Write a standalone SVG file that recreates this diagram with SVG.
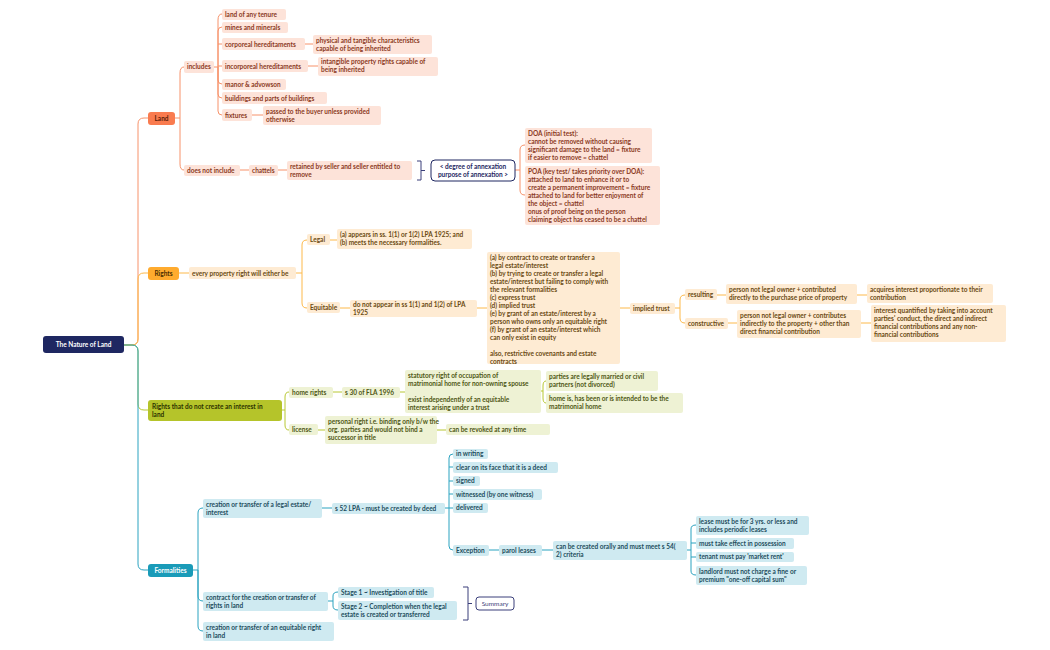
<svg xmlns="http://www.w3.org/2000/svg" width="1050" height="650" viewBox="0 0 1050 650">
<style>
text{font-family:Lato,"Open Sans","Liberation Sans",sans-serif;font-size:6.5px;font-weight:700}
.c path{fill:none;stroke-width:1}
.cl path{stroke:#F7926A}.cr path{stroke:#FDB94A}.cn path{stroke:#B8C832}.cf path{stroke:#2BA3C0}
.l rect{fill:#FDE3D9}.l text{fill:#8B3A1E}
.r rect{fill:#FEEBD3}.r text{fill:#6B4A12}
.n rect{fill:#EEF2D4}.n text{fill:#4F5714}
.f rect{fill:#CFEAF1}.f text{fill:#1E4E5E}
.br{fill:none;stroke:#3A3F7A;stroke-width:1}
</style>
<rect width="1050" height="650" fill="#fff"/>
<g class="c">
<g class="cl">
<path d="M124,345H132Q138,345 138,339V124Q138,118 144,118H148"/>
<path d="M175,118H180M180,118V73Q180,67 184,67M180,118V164Q180,170 184,170"/>
<path d="M214,67H218M218,67V20Q218,14 222,14M218,67V31Q218,27 222,27M218,44H222M218,66H222M218,67V80Q218,84 222,84M218,67V94Q218,98 222,98M218,67V111Q218,115 222,115"/>
<path d="M305,44H313M308,66H318M252,115H263M240,170H249M278,170H287"/>
<path d="M515,170H520M520,170V150Q520,145 525,145M520,170V190Q520,195 525,195"/>
</g>
<g class="cr">
<path d="M124,345H132Q138,345 138,339V279Q138,273 144,273H148"/>
<path d="M179,273H189M296,273H302M302,273V245Q302,240 307,240M302,273V303Q302,308 307,308"/>
<path d="M330,240H337M340,308H350M477,308H487M620,308H630"/>
<path d="M675,308H680M680,308V300Q680,295 685,295M680,308V318Q680,323 685,323"/>
<path d="M717,295H726M857,295H867M728,323H737M861,323H871"/>
</g>
<g class="cn">
<path d="M124,345H132Q138,345 138,351V404Q138,410 144,410H148"/>
<path d="M282,410H285M285,410V397Q285,392 289,392M285,410V425Q285,430 289,430"/>
<path d="M333,392H342M400,392H405M541,391H543M543,391V386Q543,381 546,381M543,391V398Q543,403 546,403"/>
<path d="M318,430H325M437,430H446"/>
</g>
<g class="cf">
<path d="M124,345H132Q138,345 138,351V564Q138,570 144,570H148"/>
<path d="M193,570H198M198,570V513Q198,508 203,508M198,570V596Q198,601 203,601M198,570V626Q198,631 203,631"/>
<path d="M322,508H332M445,508H449M449,508V458Q449,454 453,454M449,467H453M449,481H453M449,494H453M449,508H453M449,508V546Q449,550 453,550"/>
<path d="M489,550H499M542,550H553M687,550H691M691,550V529Q691,525 696,525M691,543H696M691,557H696M691,550V571Q691,575 696,575"/>
<path d="M328,601H333M333,601V596Q333,592 338,592M333,601V606Q333,610 338,610"/>
</g>
</g>
<g id="root"><rect x="43" y="336" width="81" height="17" rx="3" fill="#1E2761"/><text x="83.5" y="347.3" text-anchor="middle" fill="#fff">The Nature of Land</text></g>
<g id="land" class="l">
<rect x="148" y="112" width="27" height="13" rx="3" style="fill:#F97B4F"/><text x="161.5" y="120.5" text-anchor="middle" style="fill:#5a1e0a">Land</text>
</g>
<g id="includes" class="l"><rect x="184" y="61" width="30" height="12" rx="2"/><text x="187" y="69.3">includes</text></g>
<g id="l1" class="l"><rect x="222" y="9" width="64" height="11" rx="2"/><text x="225" y="16.8">land of any tenure</text></g>
<g id="l2" class="l"><rect x="222" y="22" width="66" height="11" rx="2"/><text x="225" y="29.8">mines and minerals</text></g>
<g id="l3" class="l"><rect x="222" y="38" width="83" height="12" rx="2"/><text x="225" y="46.5">corporeal hereditaments</text></g>
<g id="l3a" class="l"><rect x="313" y="35" width="119" height="19" rx="2"/><text x="316" y="42.5">physical and tangible characteristics<tspan x="316" dy="8">capable of being inherited</tspan></text></g>
<g id="l4" class="l"><rect x="222" y="60" width="86" height="12" rx="2"/><text x="225" y="68.5">incorporeal hereditaments</text></g>
<g id="l4a" class="l"><rect x="318" y="57" width="120" height="19" rx="2"/><text x="321" y="64">intangible property rights capable of<tspan x="321" dy="8">being inherited</tspan></text></g>
<g id="l5" class="l"><rect x="222" y="79" width="64" height="11" rx="2"/><text x="225" y="86.5">manor &amp; advowson</text></g>
<g id="l6" class="l"><rect x="222" y="92" width="105" height="12" rx="2"/><text x="225" y="100.5">buildings and parts of buildings</text></g>
<g id="l7" class="l"><rect x="222" y="109" width="30" height="12" rx="2"/><text x="225" y="117.5">fixtures</text></g>
<g id="l7a" class="l"><rect x="263" y="106" width="118" height="19" rx="2"/><text x="266" y="113.5">passed to the buyer unless provided<tspan x="266" dy="8">otherwise</tspan></text></g>
<g id="dni" class="l"><rect x="184" y="165" width="56" height="11" rx="2"/><text x="187" y="172.5">does not include</text></g>
<g id="chattels" class="l"><rect x="249" y="165" width="29" height="11" rx="2"/><text x="252" y="172.5">chattels</text></g>
<g id="retained" class="l"><rect x="287" y="161" width="125" height="19" rx="2"/><text x="290" y="168.5">retained by seller and seller entitled to<tspan x="290" dy="8">remove</tspan></text></g>
<path class="br" d="M417,161H421V180H417M421,170.5H425"/>
<g id="annex"><rect x="431" y="160" width="84" height="21" rx="4" fill="#fff" stroke="#1E2761" stroke-width="1"/><text x="473" y="168.5" text-anchor="middle" fill="#1E2761">&lt; degree of annexation<tspan x="473" dy="8">purpose of annexation &gt;</tspan></text></g>
<g id="doa" class="l"><rect x="525" y="128" width="127" height="35" rx="2"/><text x="528" y="135.5">DOA (initial test):<tspan x="528" dy="8">cannot be removed without causing</tspan><tspan x="528" dy="8">significant damage to the land = fixture</tspan><tspan x="528" dy="8">if easier to remove = chattel</tspan></text></g>
<g id="poa" class="l"><rect x="525" y="166" width="135" height="59" rx="2"/><text x="528" y="174">POA (key test/ takes priority over DOA):<tspan x="528" dy="8">attached to land to enhance it or to</tspan><tspan x="528" dy="8">create a permanent improvement = fixture</tspan><tspan x="528" dy="8">attached to land for better enjoyment of</tspan><tspan x="528" dy="8">the object = chattel</tspan><tspan x="528" dy="8">onus of proof being on the person</tspan><tspan x="528" dy="8">claiming object has ceased to be a chattel</tspan></text></g>

<g id="rights" class="r"><rect x="148" y="267" width="31" height="13" rx="3" style="fill:#FFAB2E"/><text x="163.5" y="275.5" text-anchor="middle" style="fill:#4a2e00">Rights</text></g>
<g id="every" class="r"><rect x="189" y="267" width="107" height="12" rx="2"/><text x="192" y="275.5">every property right will either be</text></g>
<g id="legal" class="r"><rect x="307" y="234" width="23" height="11" rx="2"/><text x="310" y="241.8">Legal</text></g>
<g id="legala" class="r"><rect x="337" y="229" width="135" height="20" rx="2"/><text x="340" y="236.5">(a) appears in ss. 1(1) or 1(2) LPA 1925; and<tspan x="340" dy="8">(b) meets the necessary formalities.</tspan></text></g>
<g id="equit" class="r"><rect x="307" y="302" width="33" height="11" rx="2"/><text x="310" y="309.8">Equitable</text></g>
<g id="equita" class="r"><rect x="350" y="300" width="127" height="17" rx="2"/><text x="353" y="306.5"> do not appear in ss 1(1) and 1(2) of LPA<tspan x="353" dy="8">1925</tspan></text></g>
<g id="list" class="r"><rect x="487" y="252" width="133" height="112" rx="2"/><text x="490" y="259.5">(a) by contract to create or transfer a<tspan x="490" dy="8">legal estate/interest</tspan><tspan x="490" dy="8">(b) by trying to create or transfer a legal</tspan><tspan x="490" dy="8">estate/interest but failing to comply with</tspan><tspan x="490" dy="8">the relevant formalities</tspan><tspan x="490" dy="8">(c) express trust</tspan><tspan x="490" dy="8">(d) implied trust</tspan><tspan x="490" dy="8">(e) by grant of an estate/interest by  a</tspan><tspan x="490" dy="8">person who owns only an equitable right</tspan><tspan x="490" dy="8">(f) by grant of an estate/interest which</tspan><tspan x="490" dy="8">can only exist in equity</tspan><tspan x="490" dy="16">also, restrictive covenants and estate</tspan><tspan x="490" dy="8">contracts</tspan></text></g>
<g id="implied" class="r"><rect x="630" y="303" width="45" height="11" rx="2"/><text x="633" y="310.8">implied trust</text></g>
<g id="resulting" class="r"><rect x="685" y="289" width="32" height="11" rx="2"/><text x="688" y="296.8">resulting</text></g>
<g id="res1" class="r"><rect x="726" y="284" width="131" height="20" rx="2"/><text x="729" y="291.5">person not legal owner + contributed<tspan x="729" dy="8">directly to the purchase price of property</tspan></text></g>
<g id="res2" class="r"><rect x="867" y="284" width="126" height="19" rx="2"/><text x="870" y="291.5">acquires interest proportionate to their<tspan x="870" dy="8">contribution</tspan></text></g>
<g id="constr" class="r"><rect x="685" y="318" width="43" height="11" rx="2"/><text x="688" y="325.8">constructive</text></g>
<g id="con1" class="r"><rect x="737" y="310" width="124" height="28" rx="2"/><text x="740" y="317.5">person not legal owner + contributes<tspan x="740" dy="8">indirectly to the property + other than</tspan><tspan x="740" dy="8">direct financial contribution</tspan></text></g>
<g id="con2" class="r"><rect x="871" y="305" width="135" height="37" rx="2"/><text x="874" y="312.5">interest quantified by taking into account<tspan x="874" dy="8">parties' conduct, the direct and indirect</tspan><tspan x="874" dy="8">financial contributions and any non-</tspan><tspan x="874" dy="8">financial contributions</tspan></text></g>

<g id="norights" class="n"><rect x="148" y="400" width="134" height="21" rx="3" style="fill:#B5C42A"/><text x="152" y="408.5" style="fill:#2d3300">Rights that do not create an interest in<tspan x="152" dy="8">land</tspan></text></g>
<g id="home" class="n"><rect x="289" y="387" width="44" height="11" rx="2"/><text x="292" y="394.8">home rights</text></g>
<g id="s30" class="n"><rect x="342" y="387" width="58" height="11" rx="2"/><text x="345" y="394.8">s 30 of FLA 1996</text></g>
<g id="stat" class="n"><rect x="405" y="370" width="136" height="43" rx="2"/><text x="408" y="378">statutory right of occupation of<tspan x="408" dy="8">matrimonial home for non-owning spouse</tspan><tspan x="408" dy="16">exist independently of an equitable</tspan><tspan x="408" dy="8">interest arising under a trust</tspan></text></g>
<g id="parties" class="n"><rect x="546" y="371" width="112" height="20" rx="2"/><text x="549" y="378.5">parties are legally married or civil<tspan x="549" dy="8">partners (not divorced)</tspan></text></g>
<g id="homeis" class="n"><rect x="546" y="393" width="137" height="20" rx="2"/><text x="549" y="400.5">home is, has been or is intended to be the<tspan x="549" dy="8">matrimonial home</tspan></text></g>
<g id="license" class="n"><rect x="289" y="424" width="29" height="11" rx="2"/><text x="292" y="431.8">license</text></g>
<g id="personal" class="n"><rect x="325" y="416" width="112" height="28" rx="2"/><text x="328" y="423.5">personal right i.e. binding only b/w the<tspan x="328" dy="8">org. parties and would not bind a</tspan><tspan x="328" dy="8">successor in title</tspan></text></g>
<g id="revoke" class="n"><rect x="446" y="424" width="104" height="11" rx="2"/><text x="449" y="431.8">can be revoked at any time</text></g>

<g id="form" class="f"><rect x="148" y="564" width="45" height="13" rx="3" style="fill:#1A9BB8"/><text x="170.5" y="572.5" text-anchor="middle" style="fill:#fff">Formalities</text></g>
<g id="f1" class="f"><rect x="203" y="499" width="119" height="19" rx="2"/><text x="206" y="506.5">creation or transfer of a legal estate/<tspan x="206" dy="8">interest</tspan></text></g>
<g id="s52" class="f"><rect x="332" y="503" width="113" height="11" rx="2"/><text x="335" y="510.8">s 52 LPA - must be created by deed</text></g>
<g id="d1" class="f"><rect x="453" y="449" width="35" height="10" rx="2"/><text x="456" y="456.3">in writing</text></g>
<g id="d2" class="f"><rect x="453" y="462" width="105" height="11" rx="2"/><text x="456" y="469.8">clear on its face that it is a deed</text></g>
<g id="d3" class="f"><rect x="453" y="476" width="27" height="10" rx="2"/><text x="456" y="483.3">signed</text></g>
<g id="d4" class="f"><rect x="453" y="489" width="89" height="11" rx="2"/><text x="456" y="496.8">witnessed (by one witness)</text></g>
<g id="d5" class="f"><rect x="453" y="503" width="35" height="10" rx="2"/><text x="456" y="510.3">delivered</text></g>
<g id="exc" class="f"><rect x="453" y="545" width="36" height="11" rx="2"/><text x="456" y="552.8">Exception</text></g>
<g id="parol" class="f"><rect x="499" y="545" width="43" height="11" rx="2"/><text x="502" y="552.8">parol leases</text></g>
<g id="orally" class="f"><rect x="553" y="541" width="134" height="19" rx="2"/><text x="556" y="548.5">can be created orally and must meet s 54(<tspan x="556" dy="8">2) criteria</tspan></text></g>
<g id="c1" class="f"><rect x="696" y="516" width="113" height="19" rx="2"/><text x="699" y="523.5">lease must be for 3 yrs. or less and<tspan x="699" dy="8">includes periodic leases</tspan></text></g>
<g id="c2" class="f"><rect x="696" y="538" width="98" height="11" rx="2"/><text x="699" y="545.8">must take effect in possession</text></g>
<g id="c3" class="f"><rect x="696" y="552" width="98" height="10" rx="2"/><text x="699" y="559.3">tenant must pay 'market rent'</text></g>
<g id="c4" class="f"><rect x="696" y="566" width="111" height="19" rx="2"/><text x="699" y="573.5">landlord must not charge a fine or<tspan x="699" dy="8">premium "one-off capital sum"</tspan></text></g>
<g id="f2" class="f"><rect x="203" y="592" width="125" height="19" rx="2"/><text x="206" y="599.5">contract for the creation or transfer of<tspan x="206" dy="8">rights in land</tspan></text></g>
<g id="st1" class="f"><rect x="338" y="587" width="96" height="11" rx="2"/><text x="341" y="594.8">Stage 1 ~ Investigation of title</text></g>
<g id="st2" class="f"><rect x="338" y="601" width="119" height="19" rx="2"/><text x="341" y="608.5">Stage 2 ~ Completion when the legal<tspan x="341" dy="8">estate is created or transferred</tspan></text></g>
<path class="br" d="M463,587H468V620H463M468,603.5H472"/>
<g id="summary"><rect x="476" y="597" width="38" height="13" rx="3" fill="#fff" stroke="#3A3F7A" stroke-width="1"/><text x="495" y="605.8" text-anchor="middle" fill="#3A3F7A" style="font-weight:400">Summary</text></g>
<g id="f3" class="f"><rect x="203" y="622" width="131" height="19" rx="2"/><text x="206" y="629.5">creation or transfer of an equitable right<tspan x="206" dy="8">in land</tspan></text></g>
</svg>
